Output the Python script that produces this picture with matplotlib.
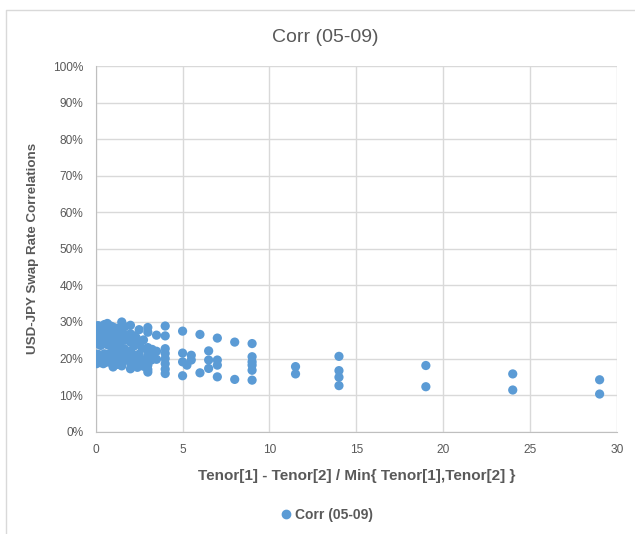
import matplotlib
matplotlib.use("Agg")
import matplotlib.pyplot as plt
from matplotlib.lines import Line2D
from matplotlib.ticker import FuncFormatter

# ================= DATA =================
# x = (Tenor1 - Tenor2) / min(Tenor1, Tenor2), y = correlation in %
x_short = [0.03, 0.03, 0.03, 0.05, 0.05, 0.07, 0.07, 0.1, 0.1, 0.11, 0.13, 0.13, 0.14,
           0.17, 0.17, 0.2, 0.2, 0.25, 0.25, 0.29, 0.29, 0.33, 0.33, 0.4, 0.4, 0.43,
           0.5, 0.5, 0.5, 0.6, 0.6, 0.67, 0.67, 0.67, 0.75, 0.75, 0.8, 0.86, 0.86,
           1.0, 1.0, 1.0, 1.0, 1.14, 1.2, 1.25, 1.25, 1.33, 1.4, 1.5, 1.5, 1.5]
y_short = [28.2, 26.5, 25.0, 27.6, 24.4, 28.7, 26.0, 27.9, 25.3, 29.0, 26.8, 24.0, 28.4,
           27.2, 25.6, 28.9, 24.8, 27.7, 26.1, 28.5, 23.6, 27.0, 25.1, 28.8, 26.4, 24.3,
           29.3, 27.5, 25.7, 28.1, 24.9, 29.6, 26.9, 23.8, 28.4, 25.4, 27.3, 28.9, 24.6,
           28.6, 26.7, 25.0, 23.2, 27.9, 25.8, 28.3, 24.2, 26.9, 23.5, 30.0, 27.4, 25.3]

x_short_low = [0.03, 0.03, 0.05, 0.05, 0.1, 0.1, 0.13, 0.17, 0.2, 0.25, 0.29, 0.33, 0.4,
               0.44, 0.5, 0.5, 0.6, 0.67, 0.75, 0.8, 0.86, 1.0, 1.0, 1.0, 1.14, 1.25,
               1.25, 1.33, 1.4, 1.5, 1.5, 1.5]
y_short_low = [20.9, 19.4, 20.2, 18.6, 21.2, 19.8, 20.5, 19.1, 21.0, 20.0, 18.9, 20.7, 19.5,
               18.6, 21.3, 20.1, 19.0, 20.8, 19.7, 21.4, 18.9, 20.4, 17.7, 19.3, 21.1, 20.0,
               18.4, 22.0, 19.2, 21.5, 20.2, 18.0]

x_mid = [1.67, 1.67, 1.67, 1.67, 1.75, 1.8, 2.0, 2.0, 2.0, 2.0, 2.0, 2.0, 2.0, 2.2, 2.2,
         2.25, 2.33, 2.33, 2.4, 2.5, 2.5, 2.5, 2.5, 2.5, 2.67, 2.75, 2.75, 2.75,
         3.0, 3.0, 3.0, 3.0, 3.0, 3.0, 3.0, 3.0, 3.2, 3.25, 3.33, 3.5, 3.5, 3.5]
y_mid = [28.7, 25.0, 22.6, 19.6, 26.3, 21.0, 29.1, 26.8, 24.5, 22.0, 20.3, 18.8, 17.2, 26.2, 23.4,
         20.9, 25.7, 19.2, 17.6, 27.9, 24.0, 21.2, 20.1, 18.3, 22.8, 25.1, 19.6, 17.9,
         28.5, 27.2, 23.0, 22.2, 20.7, 18.2, 16.3, 17.0, 19.6, 22.5, 21.3, 26.4, 19.8, 22.0]

x_long = [4, 4, 4, 4, 4, 4, 4, 4, 5, 5, 5, 5, 5.25, 5.5, 5.5, 6, 6, 6.5, 6.5, 6.5,
          7, 7, 7, 7, 8, 8, 9, 9, 9, 9, 9, 9, 11.5, 11.5, 14, 14, 14, 14,
          19, 19, 24, 24, 29, 29]
y_long = [28.9, 26.2, 22.7, 21.4, 20.0, 18.6, 17.1, 15.9, 27.5, 21.5, 19.1, 15.3, 18.2, 20.9, 19.6,
          26.6, 16.1, 22.1, 19.6, 17.3, 25.6, 19.6, 18.2, 15.0, 24.5, 14.3,
          24.1, 20.5, 19.1, 18.2, 16.8, 14.1, 17.8, 15.8, 20.6, 16.7, 14.9, 12.6,
          18.1, 12.3, 15.8, 11.4, 14.2, 10.3]

x_vals = x_short + x_short_low + x_mid + x_long
y_vals = [v / 100 for v in y_short + y_short_low + y_mid + y_long]

x_ticks = [0, 5, 10, 15, 20, 25, 30]
y_ticks = [i / 10 for i in range(11)]

# ================= STYLE =================
BLUE = "#5B9BD5"
GRID = "#D9D9D9"
TXT = "#595959"
plt.rcParams["font.family"] = ["Liberation Sans", "DejaVu Sans"]

fig = plt.figure(figsize=(6.35, 5.34), dpi=100)
ax = fig.add_axes([95.7 / 635, 1 - 431.7 / 534, (617 - 95.7) / 635, (431.7 - 66) / 534])

ax.scatter(x_vals, y_vals, s=44, color=BLUE, edgecolors="none", zorder=3, label="Corr (05-09)")

ax.set_xlim(0, 30)
ax.set_ylim(0, 1)
ax.set_xticks(x_ticks)
ax.set_yticks(y_ticks)
ax.yaxis.set_major_formatter(FuncFormatter(lambda v, p: f"{v * 100:.0f}%"))
ax.grid(True, color=GRID, linewidth=1, zorder=0)
ax.tick_params(length=0, colors=TXT, labelsize=8.6)
ax.tick_params(axis="y", pad=9)
ax.tick_params(axis="x", pad=9)
for s in ["top", "right"]:
    ax.spines[s].set_visible(False)
for s in ["left", "bottom"]:
    ax.spines[s].set_color("#BFBFBF")

# title centred on the whole chart, not the plot area
fig.text(325 / 635, 1 - 37 / 534, "Corr (05-09)", fontsize=14, color=TXT, ha="center", va="center")
ax.set_xlabel("Tenor[1] - Tenor[2] / Min{ Tenor[1],Tenor[2] }", fontsize=11,
              fontweight="bold", color=TXT, labelpad=9)
ax.set_ylabel("USD-JPY Swap Rate Correlations", fontsize=9.6, fontweight="bold",
              color=TXT, labelpad=10)

leg = fig.legend(handles=[Line2D([], [], marker="o", linestyle="none", color=BLUE, markersize=6)],
                 labels=["Corr (05-09)"], loc="center", bbox_to_anchor=(326 / 635, 1 - 515 / 534),
                 frameon=False, handlelength=1, handletextpad=0.15, prop={"size": 10, "weight": "bold"})
for t in leg.get_texts():
    t.set_color(TXT)

# chart area border
fig.add_artist(Line2D([6 / 635, 6 / 635, 1], [0, 1 - 10 / 534, 1 - 10 / 534],
                      transform=fig.transFigure, color=GRID, linewidth=1))

fig.savefig("out.png", dpi=100)
